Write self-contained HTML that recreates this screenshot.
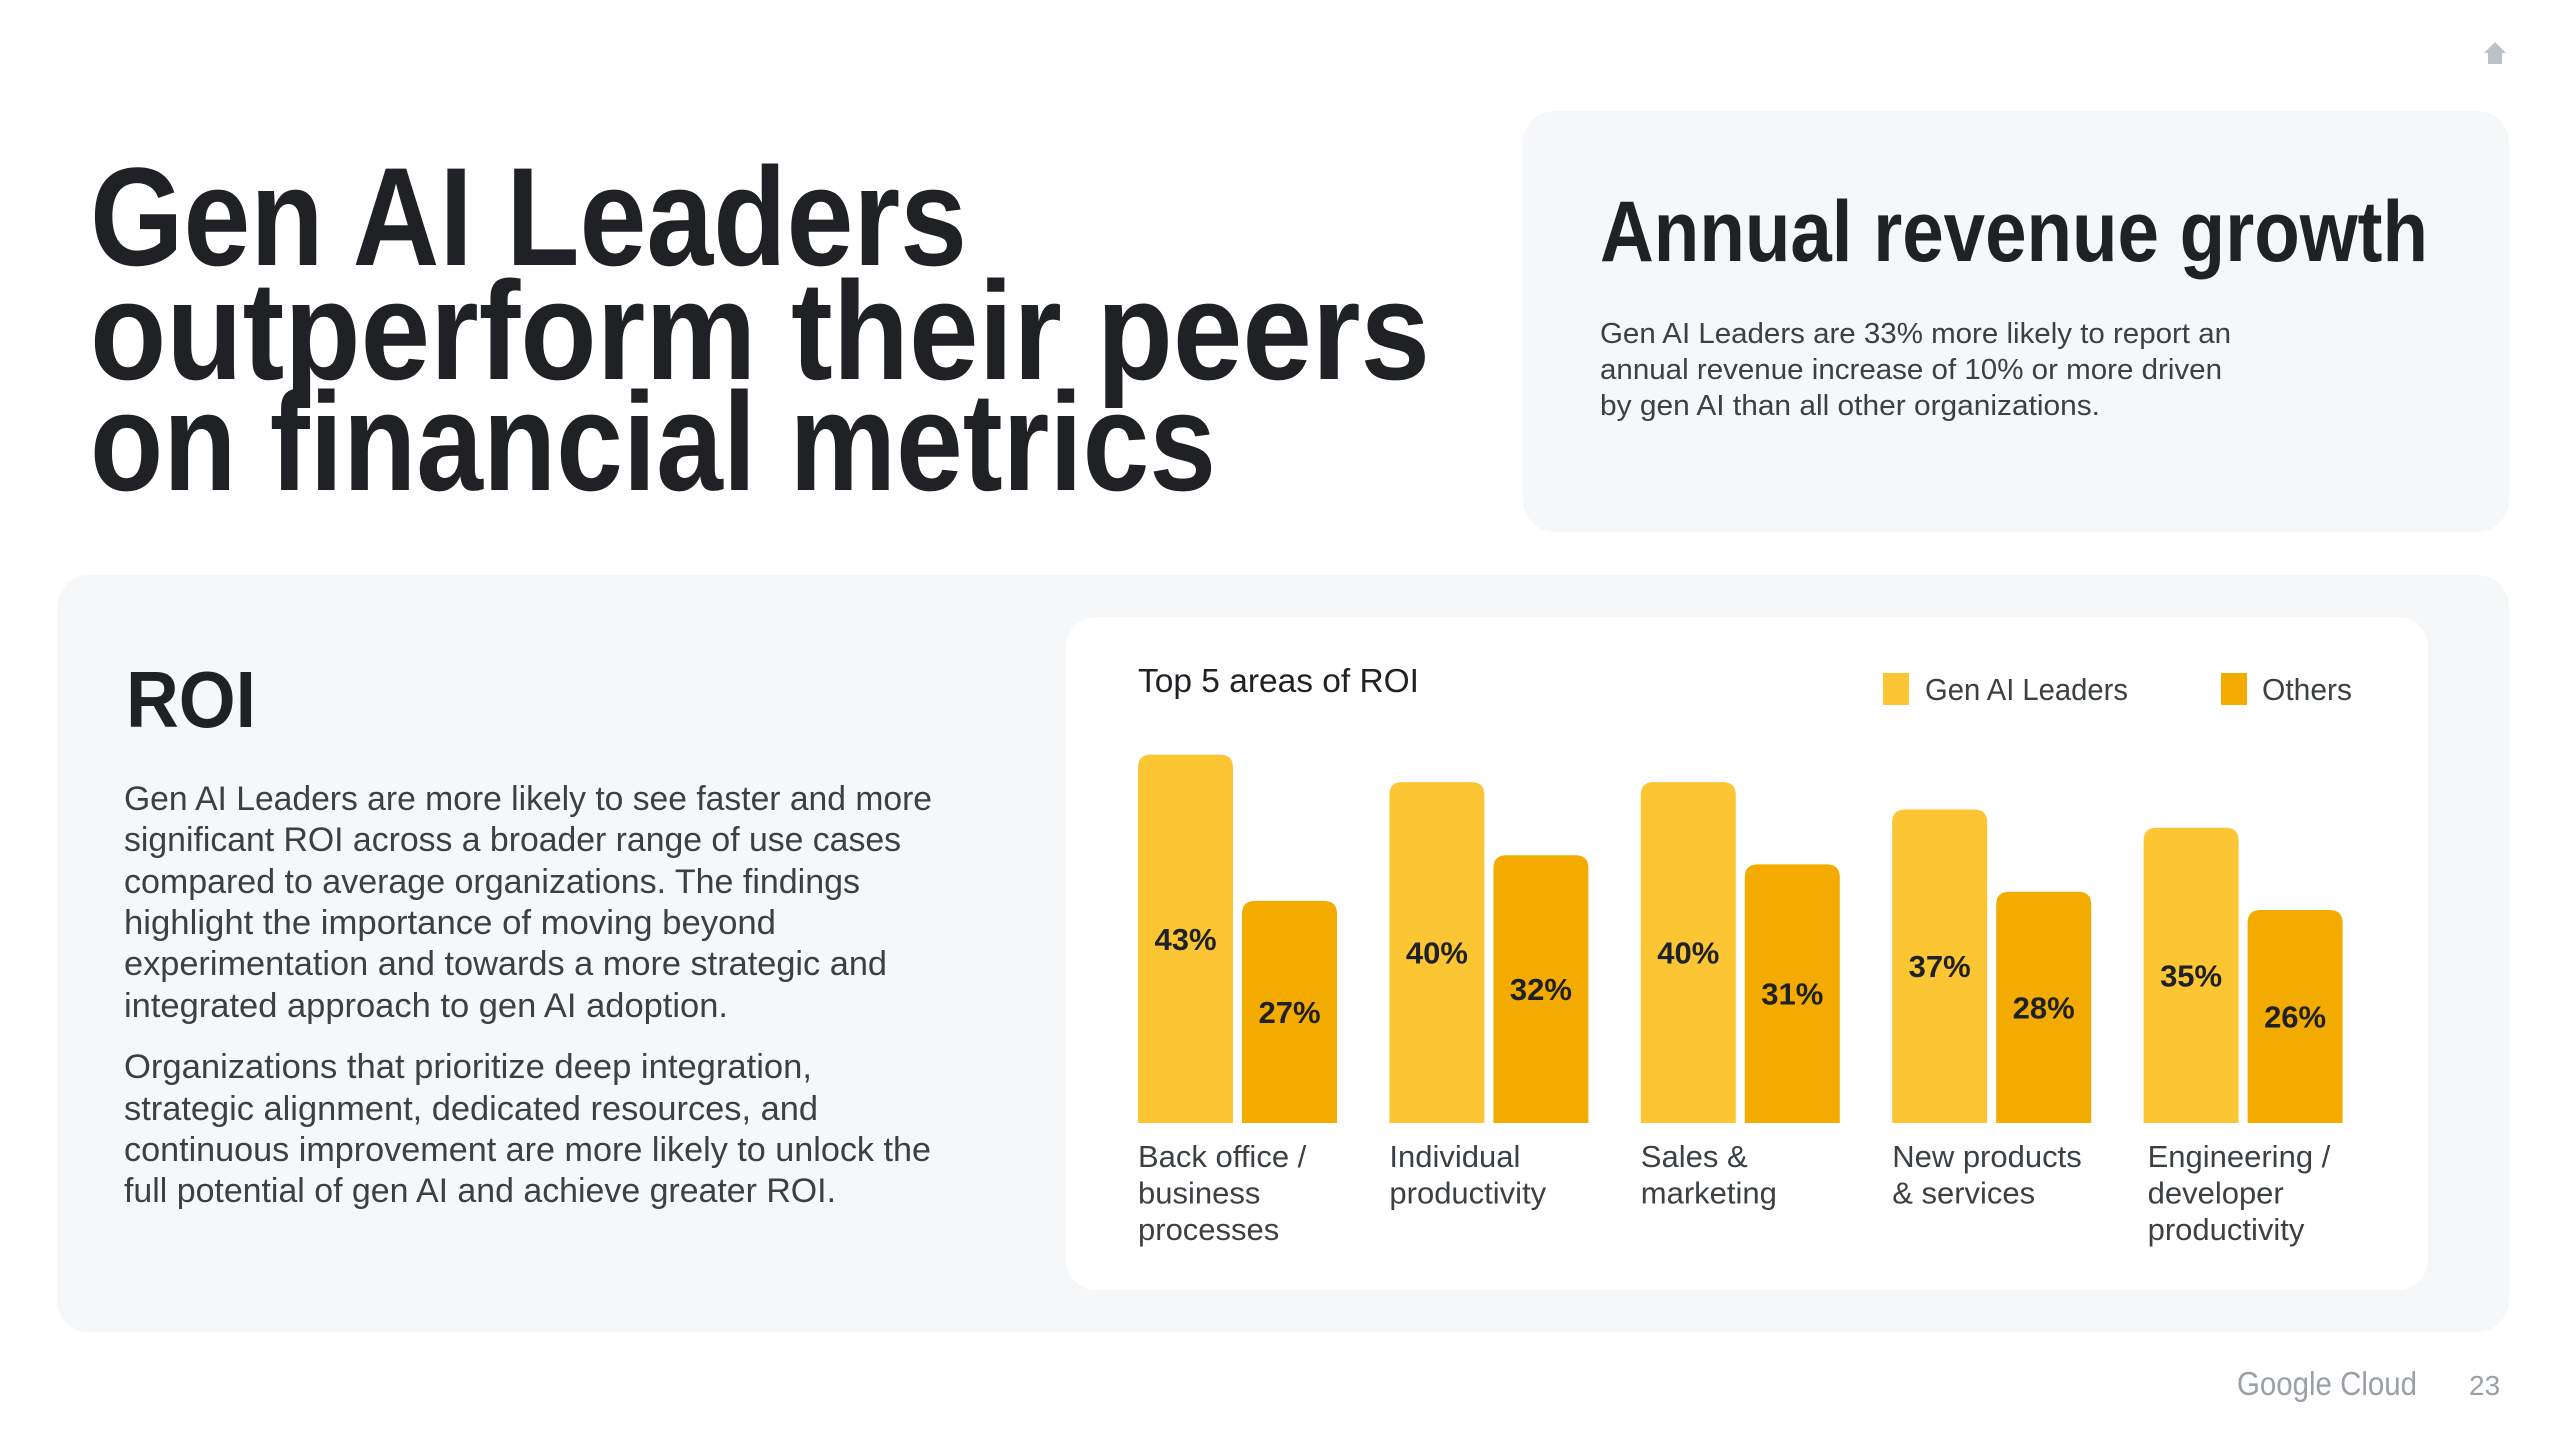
<!DOCTYPE html>
<html><head><meta charset="utf-8"><style>
html,body{margin:0;padding:0;background:#fff}
svg{display:block}
text{font-family:"Liberation Sans",sans-serif}
</style></head><body>
<svg id="page" width="2560" height="1440" viewBox="0 0 2560 1440" xmlns="http://www.w3.org/2000/svg" fill="#202124">
<rect width="2560" height="1440" fill="#fff"/>
<g fill="#bdc1c6">
<polygon points="2495,42 2484,53 2488,53 2488,64 2502,64 2502,53 2506,53"/>
</g>
<g font-weight="bold" font-size="140" fill="#202124">
<text x="90" y="265" textLength="877" lengthAdjust="spacingAndGlyphs">Gen AI Leaders</text>
<text x="90" y="379" textLength="1340" lengthAdjust="spacingAndGlyphs">outperform their peers</text>
<text x="90" y="490" textLength="1126" lengthAdjust="spacingAndGlyphs">on financial metrics</text>
</g>
<rect x="1523" y="111" width="986" height="421" rx="32" fill="#f6f7f9"/>
<text x="1600" y="261" font-size="86" font-weight="bold" fill="#202124" textLength="828" lengthAdjust="spacingAndGlyphs">Annual revenue growth</text>
<g font-size="29" fill="#3c4043">
<text x="1600" y="343" textLength="631" lengthAdjust="spacingAndGlyphs">Gen AI Leaders are 33% more likely to report an</text>
<text x="1600" y="379" textLength="622" lengthAdjust="spacingAndGlyphs">annual revenue increase of 10% or more driven</text>
<text x="1600" y="415" textLength="500" lengthAdjust="spacingAndGlyphs">by gen AI than all other organizations.</text>
</g>
<rect x="57" y="575" width="2452" height="757" rx="32" fill="#f6f7f9"/>
<text x="126" y="727" font-size="80" font-weight="bold" fill="#202124" textLength="130" lengthAdjust="spacingAndGlyphs">ROI</text>
<g font-size="34" fill="#3c4043">
<text x="124" y="810" textLength="808" lengthAdjust="spacingAndGlyphs">Gen AI Leaders are more likely to see faster and more</text>
<text x="124" y="851" textLength="777" lengthAdjust="spacingAndGlyphs">significant ROI across a broader range of use cases</text>
<text x="124" y="893" textLength="736" lengthAdjust="spacingAndGlyphs">compared to average organizations. The findings</text>
<text x="124" y="934" textLength="652" lengthAdjust="spacingAndGlyphs">highlight the importance of moving beyond</text>
<text x="124" y="975" textLength="763" lengthAdjust="spacingAndGlyphs">experimentation and towards a more strategic and</text>
<text x="124" y="1017" textLength="604" lengthAdjust="spacingAndGlyphs">integrated approach to gen AI adoption.</text>
<text x="124" y="1078" textLength="688" lengthAdjust="spacingAndGlyphs">Organizations that prioritize deep integration,</text>
<text x="124" y="1120" textLength="694" lengthAdjust="spacingAndGlyphs">strategic alignment, dedicated resources, and</text>
<text x="124" y="1161" textLength="807" lengthAdjust="spacingAndGlyphs">continuous improvement are more likely to unlock the</text>
<text x="124" y="1202" textLength="712" lengthAdjust="spacingAndGlyphs">full potential of gen AI and achieve greater ROI.</text>
</g>
<rect x="1066" y="617" width="1362" height="673" rx="30" fill="#fff"/>
<text x="1138" y="692" font-size="33" fill="#202124" textLength="281" lengthAdjust="spacingAndGlyphs">Top 5 areas of ROI</text>
<g>
<rect x="1883" y="673" width="26" height="32" fill="#fbc533"/>
<text x="1925" y="700" font-size="31" fill="#3c4043" textLength="203" lengthAdjust="spacingAndGlyphs">Gen AI Leaders</text>
<rect x="2221" y="673" width="26" height="32" fill="#f4ab00"/>
<text x="2262" y="700" font-size="31" fill="#3c4043" textLength="90" lengthAdjust="spacingAndGlyphs">Others</text>
</g>
<g id="bars"></g>
<text x="2237" y="1395" font-size="33" fill="#9aa0a6" textLength="180" lengthAdjust="spacingAndGlyphs">Google Cloud</text>
<text x="2469" y="1395" font-size="28" fill="#9aa0a6">23</text>
</svg>
<script>
const categories = [["Back office /","business","processes"],["Individual","productivity"],["Sales &","marketing"],["New products","& services"],["Engineering /","developer","productivity"]];
const leaders = [43, 40, 40, 37, 35];
const others = [27, 32, 31, 28, 26];
const NS = "http://www.w3.org/2000/svg";
const g = document.getElementById('bars');
const baseY = 1123, pxPer = 9.14, v0 = 2.7;
function y(v){ return baseY - (v - v0) * pxPer; }
function xGroup(i){ return 1138 + i * 251.4; }
const bw = 95, r = 13;
function bar(x, v, color, name){
  const top = y(v);
  const p = document.createElementNS(NS,'path');
  p.setAttribute('d', `M${x},${baseY} L${x},${top+r} Q${x},${top} ${x+r},${top} L${x+bw-r},${top} Q${x+bw},${top} ${x+bw},${top+r} L${x+bw},${baseY} Z`);
  p.setAttribute('fill', color);
  
  
  g.appendChild(p);
  const t = document.createElementNS(NS,'text');
  t.setAttribute('x', x + bw/2);
  t.setAttribute('y', (top + baseY)/2 + 11);
  t.setAttribute('text-anchor','middle');
  t.setAttribute('font-size','31');
  t.setAttribute('font-weight','bold');
  t.setAttribute('fill','#202124');
  t.textContent = v + '%';
  
  
  g.appendChild(t);
}
categories.forEach((c, i) => {
  const x = xGroup(i);
  bar(x, leaders[i], '#fbc533', 'bar-leaders-' + i);
  bar(x + 104, others[i], '#f4ab00', 'bar-others-' + i);
  c.forEach((line, j) => {
    const t = document.createElementNS(NS,'text');
    t.setAttribute('x', x + (i === 4 ? 4 : 0));
    t.setAttribute('y', 1167 + j * 36.5);
    t.setAttribute('font-size','31');
    t.setAttribute('fill','#3c4043');
    t.textContent = line;
    
    
    g.appendChild(t);
  });
});
</script>
</body></html>
